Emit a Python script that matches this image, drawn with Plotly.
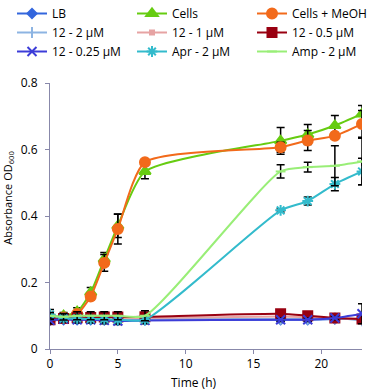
import plotly.graph_objects as go

# time points (h)
time = [0, 1, 2, 3, 4, 5, 7, 17, 19, 21, 23]

# absorbance OD600 per condition
lb = [0.086, 0.088, 0.088, 0.088, 0.087, 0.086, 0.087, 0.088, 0.088, 0.09, 0.09]
cells = [0.095, 0.1, 0.112, 0.17, 0.27, 0.37, 0.534, 0.626, 0.645, 0.672, 0.707]
cells_meoh = [0.09, 0.095, 0.105, 0.158, 0.259, 0.361, 0.562, 0.607, 0.627, 0.641, 0.677]
c12_2 = [0.092, 0.092, 0.092, 0.092, 0.09, 0.09, 0.09, 0.09, 0.09, 0.093, 0.085]
c12_1 = [0.09, 0.092, 0.094, 0.094, 0.094, 0.093, 0.093, 0.098, 0.096, 0.094, 0.09]
c12_05 = [0.088, 0.092, 0.094, 0.095, 0.096, 0.096, 0.097, 0.106, 0.1, 0.093, 0.09]
c12_025 = [0.086, 0.09, 0.088, 0.088, 0.086, 0.084, 0.086, 0.088, 0.088, 0.093, 0.106]
apr = [0.104, 0.092, 0.092, 0.09, 0.09, 0.088, 0.088, 0.417, 0.445, 0.496, 0.534]
amp = [0.1, 0.097, 0.1, 0.1, 0.1, 0.1, 0.1, 0.534, 0.547, 0.551, 0.564]

# error bar sizes
cells_err = [0.01, 0.01, 0.012, 0.015, 0.02, 0.035, 0.022, 0.04, 0.03, 0.03, 0.025]
cells_meoh_err = [0.01, 0.01, 0.01, 0.01, 0.025, 0.045, 0.01, 0.015, 0.03, 0.01, 0.04]
c12_025_err = [0.01, 0.008, 0.01, 0.01, 0.01, 0.01, 0.01, 0.005, 0.005, 0.005, 0.03]
apr_err = [0.015, 0.01, 0.01, 0.01, 0.01, 0.01, 0.01, 0.005, 0.012, 0.02, 0.04]
amp_err = [0.01, 0.01, 0.012, 0.012, 0.012, 0.012, 0.015, 0.02, 0.015, 0.06, 0.07]
small_err = [0.005] * 11

# name, values, errors, colour, marker, size, legend column
series = [
    ("LB", lb, small_err, "#3366DD", "diamond", 7, "legend"),
    ("Cells", cells, cells_err, "#66CC11", "triangle-up", 10, "legend2"),
    ("Cells + MeOH", cells_meoh, cells_meoh_err, "#F26A1B", "circle", 10, "legend3"),
    ("12 - 2 µM", c12_2, small_err, "#8DB4E2", "line-ns-open", 8, "legend"),
    ("12 - 1 µM", c12_1, small_err, "#E6A3A3", "square", 4, "legend2"),
    ("12 - 0.5 µM", c12_05, small_err, "#990011", "square", 9, "legend3"),
    ("12 - 0.25 µM", c12_025, c12_025_err, "#3C3CD8", "x-thin-open", 9, "legend"),
    ("Apr - 2 µM", apr, apr_err, "#33BBCC", "asterisk-open", 9, "legend2"),
    ("Amp - 2 µM", amp, amp_err, "#99EE77", "line-ew-open", 7, "legend3"),
]

fig = go.Figure()
for name, y, err, col, sym, sz, leg in series:
    fig.add_trace(go.Scatter(
        x=time, y=y, name=name, mode="lines+markers", legend=leg,
        line=dict(color=col, width=2, shape="spline", smoothing=0.6),
        marker=dict(color=col, symbol=sym, size=sz, line=dict(color=col, width=2)),
        error_y=dict(type="data", array=err, color="black", thickness=1.5, width=4),
    ))

# legend columns placed in paper coords above the plot area
def leg(x):
    return dict(x=x, y=1.0 + 84 / 266, xref="paper", yref="paper", xanchor="left",
                yanchor="top", orientation="v", tracegroupgap=0,
                font=dict(size=12), itemwidth=30, bgcolor="rgba(0,0,0,0)")

axcol = "#8888AA"
fig.update_layout(
    width=368, height=390,
    margin=dict(l=50, r=6, t=83, b=41, autoexpand=False),
    paper_bgcolor="white", plot_bgcolor="white",
    font=dict(family="Open Sans, Liberation Sans, sans-serif", size=12, color="black"),
    showlegend=True,
    hovermode=False,
    legend=leg((12 - 50) / 312), legend2=leg((132 - 50) / 312), legend3=leg((252 - 50) / 312),
    xaxis=dict(range=[0, 23], tickvals=[0, 5, 10, 15, 20], showline=True,
               linecolor=axcol, linewidth=1, ticks="outside", tickcolor=axcol,
               ticklen=4, showgrid=False, zeroline=False),
    yaxis=dict(range=[0, 0.8], tickvals=[0, 0.2, 0.4, 0.6, 0.8],
               ticktext=["0", "0.2", "0.4", "0.6", "0.8"], showline=True,
               linecolor=axcol, linewidth=1, ticks="outside", tickcolor=axcol,
               ticklen=4, ticklabelstandoff=5, showgrid=False, zeroline=False),
    annotations=[
        dict(text="Time (h)", x=(194 - 50) / 312, y=-0.125, xref="paper", yref="paper",
             xanchor="center", yanchor="middle", showarrow=False, font=dict(size=12)),
        dict(text="Absorbance OD<sub>600</sub>", x=-0.135, y=0.568, xref="paper", yref="paper",
             xanchor="center", yanchor="middle", textangle=-90, showarrow=False,
             font=dict(size=11)),
    ],
)

# drop the page's default body margin so the figure sits at the window corner
fig.write_html("out.html", config={"displayModeBar": False},
               post_script="document.body.style.margin='0';")
